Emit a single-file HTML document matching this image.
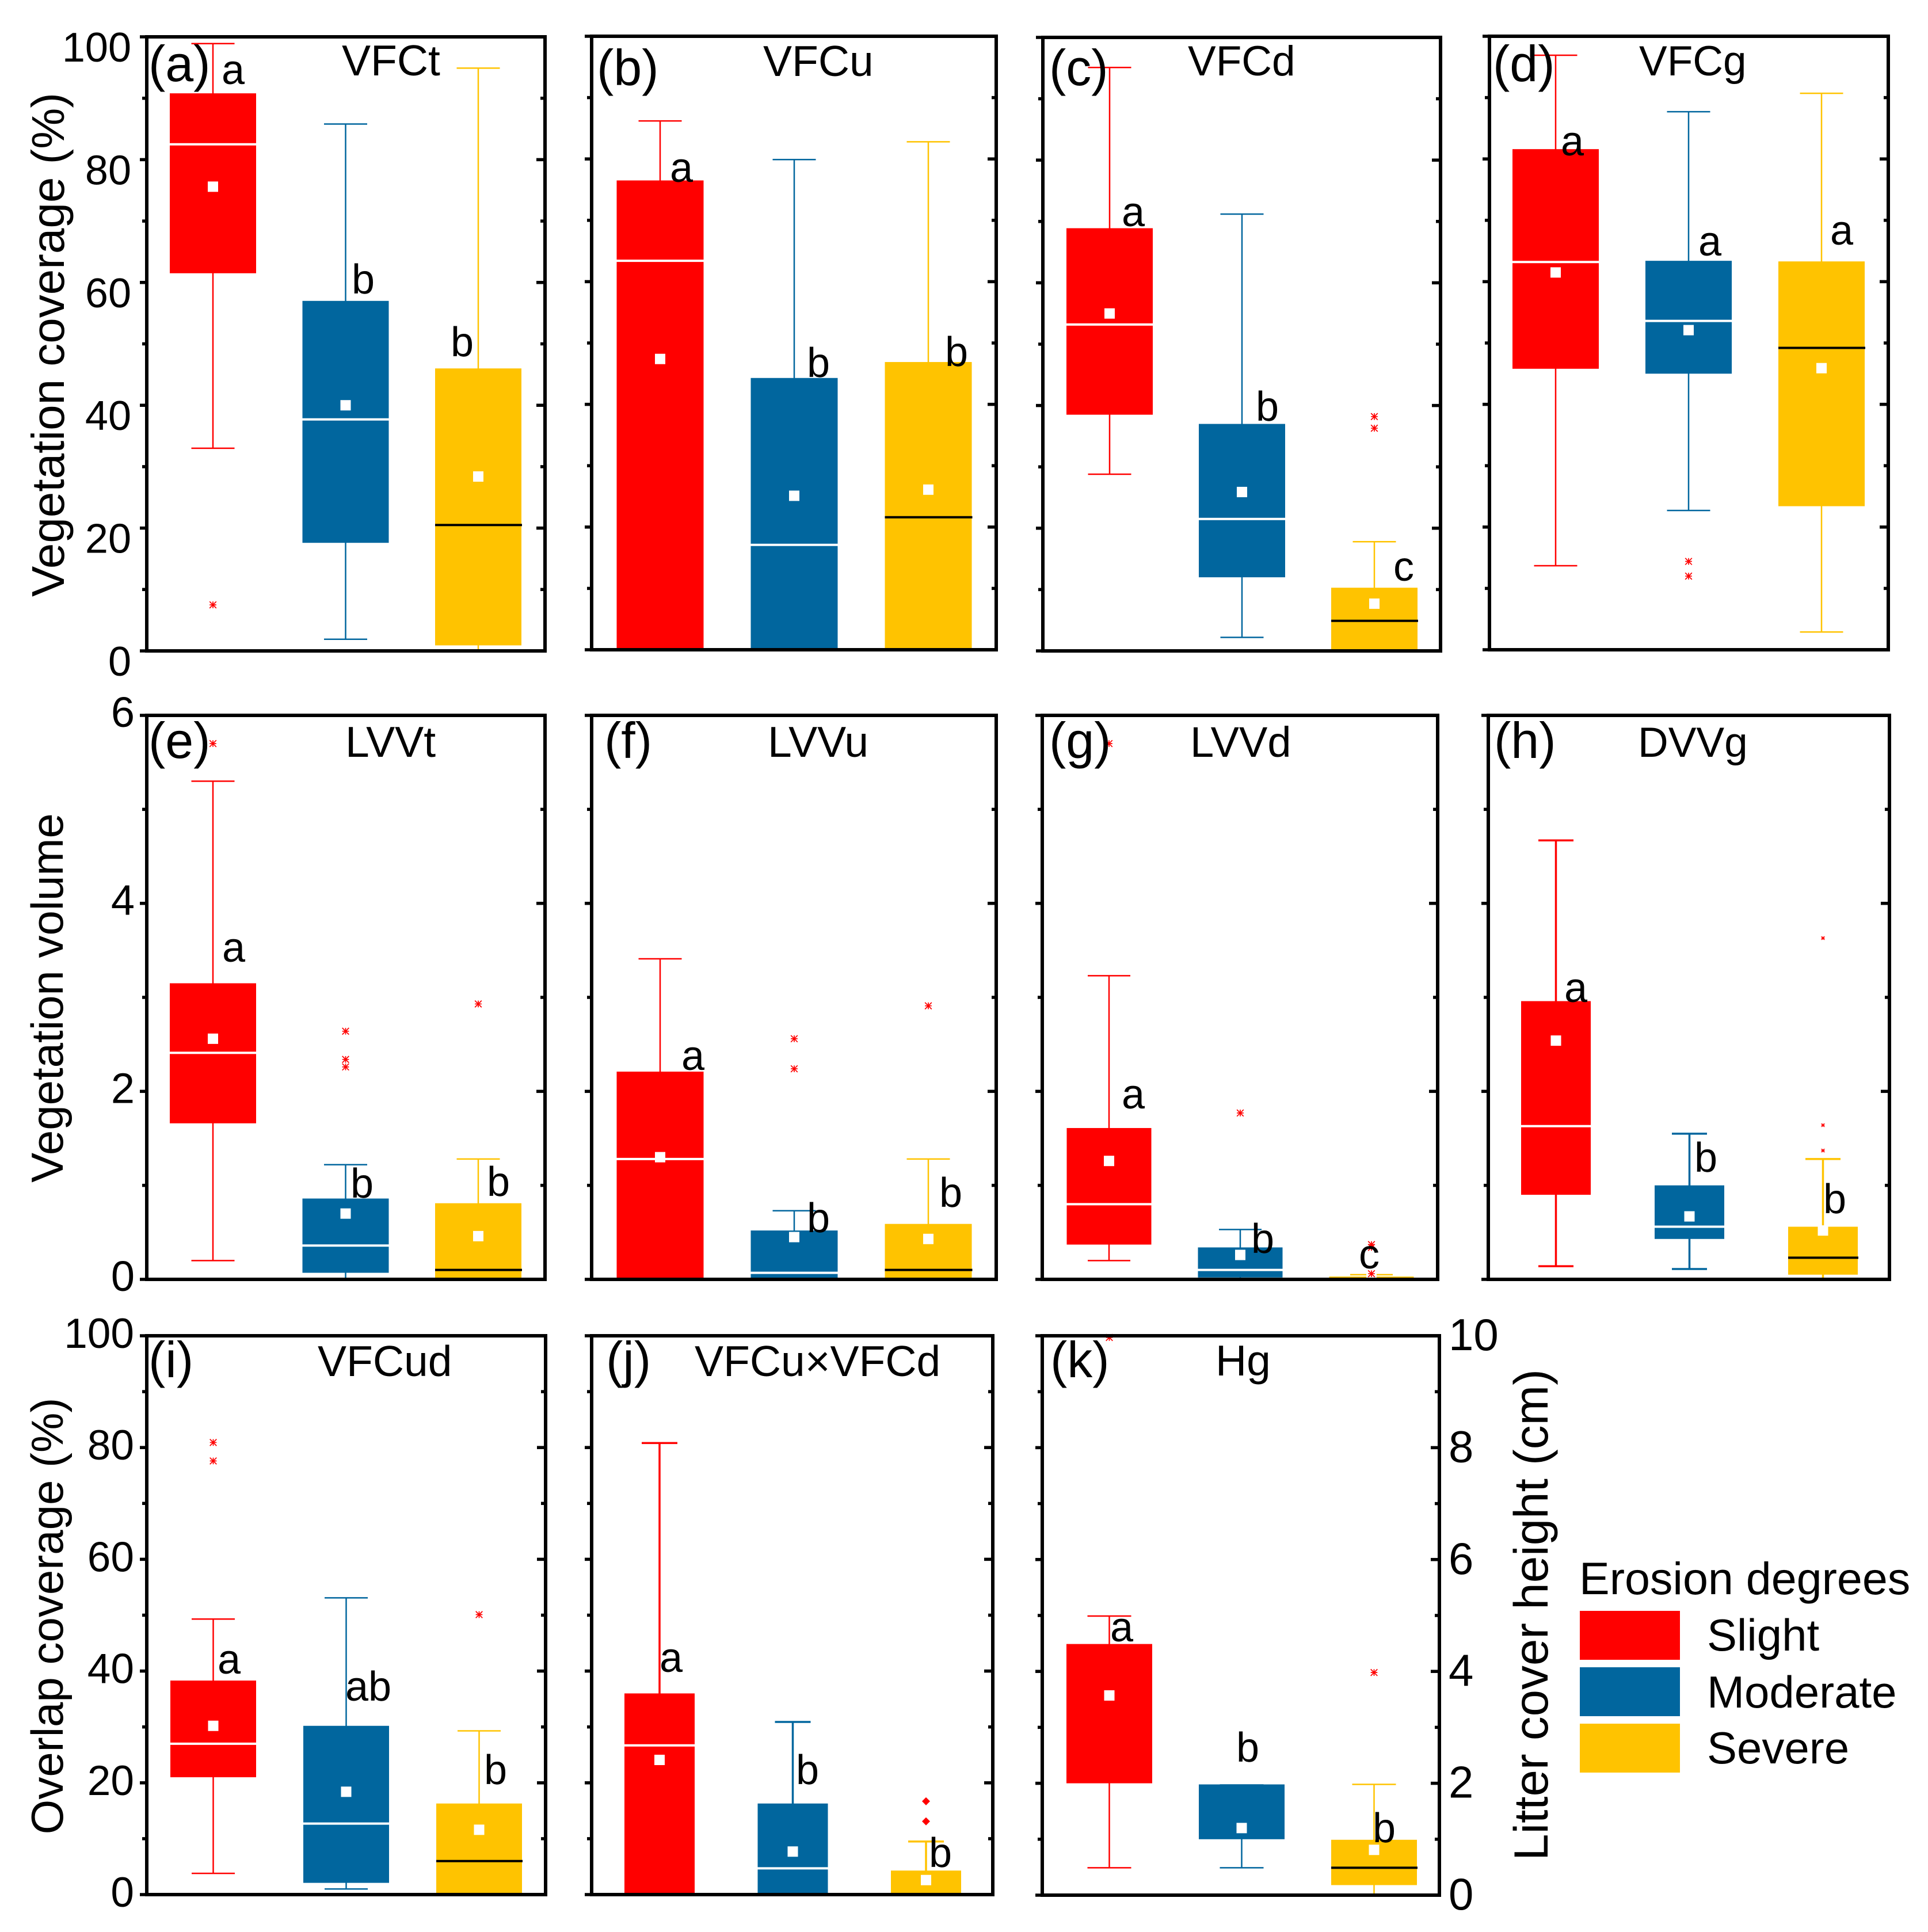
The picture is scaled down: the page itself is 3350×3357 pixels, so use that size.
<!DOCTYPE html>
<html lang="en">
<head>
<meta charset="utf-8">
<title>Vegetation structure by erosion degree</title>
<style>
html,body{margin:0;padding:0;background:#fff;}
svg{display:block;}
text{font-family:"Liberation Sans",Arial,sans-serif;fill:#000;}
.pl{font-size:88px;}
.tt{font-size:75px;}
.lt{font-size:72px;}
.at{font-size:80px;text-anchor:middle;}
.tk{font-size:72px;}
.lg{font-size:78px;}
</style>
</head>
<body>
<svg id="chart" xmlns="http://www.w3.org/2000/svg" width="3350" height="3357" viewBox="0 0 3350 3357">
<rect x="0" y="0" width="3350" height="3357" fill="#fff"/>
<g id="marks"></g>

<g>
<text class="at" transform="translate(111,599) rotate(-90)">Vegetation coverage (%)</text>
<text class="at" style="font-size:78px" transform="translate(109,1734) rotate(-90)">Vegetation volume</text>
<text class="at" style="font-size:78px" transform="translate(109,2808) rotate(-90)">Overlap coverage (%)</text>
<text class="at" style="font-size:83.5px" transform="translate(2689,2806) rotate(-90)">Litter cover height (cm)</text>
</g>

<g transform="translate(-3,1)">
<text class="pl" x="261" y="140">(a)</text>
<text class="tt" x="597" y="130">VFCt</text>
<text class="lt" x="388" y="145">a</text>
<text class="lt" x="614" y="509">b</text>
<text class="lt" x="786" y="618">b</text>
</g>
<g transform="translate(-3,1)">
<text class="pl" x="1040" y="147">(b)</text>
<text class="tt" x="1329" y="131">VFCu</text>
<text class="lt" x="1167" y="315">a</text>
<text class="lt" x="1405" y="654">b</text>
<text class="lt" x="1645" y="635">b</text>
</g>
<g transform="translate(-3,1)">
<text class="pl" x="1826" y="147">(c)</text>
<text class="tt" style="font-size:73px" x="2067" y="130">VFCd</text>
<text class="lt" x="1952" y="392">a</text>
<text class="lt" x="2185" y="730">b</text>
<text class="lt" x="2424" y="1008">c</text>
</g>
<g transform="translate(-3,1)">
<text class="pl" x="2597" y="140">(d)</text>
<text class="tt" style="font-size:73px" x="2851" y="130">VFCg</text>
<text class="lt" x="2715" y="269">a</text>
<text class="lt" x="2954" y="443">a</text>
<text class="lt" x="3183" y="424">a</text>
</g>
<g transform="translate(-3,1)">
<text class="pl" x="261" y="1316">(e)</text>
<text class="tt" x="603" y="1314">LVVt</text>
<text class="lt" x="389" y="1670">a</text>
<text class="lt" x="612" y="2080">b</text>
<text class="lt" x="849" y="2077">b</text>
</g>
<g transform="translate(-3,1)">
<text class="pl" x="1053" y="1316">(f)</text>
<text class="tt" x="1337" y="1314">LVVu</text>
<text class="lt" x="1187" y="1858">a</text>
<text class="lt" x="1405" y="2140">b</text>
<text class="lt" x="1635" y="2096">b</text>
</g>
<g transform="translate(-3,1)">
<text class="pl" x="1826" y="1316">(g)</text>
<text class="tt" style="font-size:74px" x="2071" y="1314">LVVd</text>
<text class="lt" x="1952" y="1925">a</text>
<text class="lt" x="2177" y="2176">b</text>
<text class="lt" x="2364" y="2203">c</text>
</g>
<g transform="translate(-3,1)">
<text class="pl" x="2599" y="1316">(h)</text>
<text class="tt" style="font-size:73px" x="2849" y="1314">DVVg</text>
<text class="lt" x="2721" y="1740">a</text>
<text class="lt" x="2947" y="2035">b</text>
<text class="lt" x="3171" y="2107">b</text>
</g>
<g transform="translate(-3,1)">
<text class="pl" x="261" y="2392">(i)</text>
<text class="tt" x="555" y="2390">VFCud</text>
<text class="lt" x="381" y="2907">a</text>
<text class="lt" x="603" y="2954">ab</text>
<text class="lt" x="844" y="3099">b</text>
</g>
<g transform="translate(-3,1)">
<text class="pl" x="1056" y="2392">(j)</text>
<text class="tt" x="1210" y="2390">VFCu×VFCd</text>
<text class="lt" x="1149" y="2904">a</text>
<text class="lt" x="1386" y="3099">b</text>
<text class="lt" x="1617" y="3243">b</text>
</g>
<g transform="translate(-3,1)">
<text class="pl" x="1828" y="2392">(k)</text>
<text class="tt" x="2115" y="2389">Hg</text>
<text class="lt" x="1932" y="2851">a</text>
<text class="lt" x="2151" y="3060">b</text>
<text class="lt" x="2388" y="3200">b</text>
</g>

<g>
<text class="lg" style="font-size:79px" x="2744" y="2770">Erosion degrees</text>
<rect x="2745" y="2799" width="174" height="85" fill="#ff0000"/>
<text class="lg" x="2966" y="2868">Slight</text>
<rect x="2745" y="2897" width="174" height="85" fill="#01669e"/>
<text class="lg" x="2966" y="2967">Moderate</text>
<rect x="2745" y="2995" width="174" height="85" fill="#ffc300"/>
<text class="lg" x="2966" y="3064">Severe</text>
</g>
</svg>

<script>
// ----- chart data (panels a..k, each with Slight / Moderate / Severe) -----
const panelIds = ['a','b','c','d','e','f','g','h','i','j','k'];
const categories = ['slight','moderate','severe'];
const seriesColors = ['#ff0000','#01669e','#ffc300'];
const medianColors = ['#ffffff','#ffffff','#000000'];

const whiskerHigh = [[98.9,85.8,94.9],[86.2,79.9,82.8],[95.1,71.2,17.8],[96.9,87.7,90.7],[5.3,1.22,1.28],[3.41,0.73,1.28],[3.23,0.53,0.05],[4.67,1.55,1.28],[49.3,53.1,29.3],[80.8,30.9,9.5],[4.99,1.97,1.98]];
const boxTop = [[90.8,57,46],[76.5,44.3,46.9],[68.9,37,10.3],[81.6,63.4,63.3],[3.15,0.86,0.81],[2.21,0.52,0.59],[1.61,0.34,0.03],[2.96,1,0.56],[38.3,30.2,16.3],[36,16.3,4.3],[4.49,1.98,0.99]];
const medians = [[82.5,37.7,20.5],[63.4,17.1,21.6],[53.2,21.5,4.9],[63.2,53.6,49.2],[2.41,0.36,0.1],[1.28,0.07,0.1],[0.8,0.1,null],[1.63,0.56,0.23],[27,12.7,6],[26.7,4.7,null],[null,null,0.49]];
const means = [[75.6,40,28.4],[47.4,25.1,26.1],[55,25.9,7.7],[61.5,52.1,45.9],[2.56,0.7,0.46],[1.3,0.45,0.43],[1.26,0.26,0.02],[2.54,0.67,0.52],[30.2,18.4,11.6],[24.1,7.7,2.6],[3.57,1.2,0.81]];
const boxBottom = [[61.5,17.6,0.9],[0,0,0],[38.5,12,0],[45.8,45,23.4],[1.66,0.07,0],[0,0,0],[0.37,0.02,0],[0.9,0.43,0.05],[21,2.1,0],[0,0,0],[2,1,0.18]];
const whiskerLow = [[33,1.9,0],[0,0,0],[28.8,2.2,0],[13.7,22.7,2.9],[0.2,0,0],[0,0,0],[0.2,0,0],[0.14,0.11,0],[3.8,1,0],[0,0,0],[0.49,0.49,0]];
const outliers = [[[7.5],[],[]],[[],[],[]],[[],[],[38.2,36.3]],[[],[14.4,12],[]],[[5.7],[2.64,2.34,2.26],[2.93]],[[],[2.56,2.24],[2.91]],[[5.7],[1.77],[0.37,0.34,0.06]],[[],[],[3.63,1.64,1.37]],[[80.9,77.6],[],[50.1]],[[],[],[16.7,13.1]],[[9.97],[],[3.98]]];

const coverMajorTicks = [0,20,40,60,80,100];
const coverMinorTicks = [10,30,50,70,90];
const volumeMajorTicks = [0,2,4,6];
const volumeMinorTicks = [1,3,5];
const heightMajorTicks = [0,2,4,6,8,10];
const heightMinorTicks = [1,3,5,7,9];

// ----- layout (plot frames, not data) -----
const layout = {
  a:{l:255,r:947,t:64,b:1131,max:100,x0:370,step:230.5,w:150,cap:75,lw:2.5,maj:coverMajorTicks,min:coverMinorTicks,labelX:228,labelDy:43,labelSize:72},
  b:{l:1028,r:1731,t:63,b:1129,max:100,x0:1147,step:233,w:151,cap:75,lw:2.5,maj:coverMajorTicks,min:coverMinorTicks},
  c:{l:1812,r:2503,t:65,b:1131,max:100,x0:1928,step:230,w:150,cap:75,lw:2.5,maj:coverMajorTicks,min:coverMinorTicks},
  d:{l:2588,r:3281,t:63,b:1129,max:100,x0:2703,step:231,w:150,cap:75,lw:2.5,maj:coverMajorTicks,min:coverMinorTicks},
  e:{l:255,r:947,t:1243,b:2223,max:6,x0:370,step:230.5,w:150,cap:75,lw:2.5,maj:volumeMajorTicks,min:volumeMinorTicks,labelX:234,labelDy:20,labelSize:74},
  f:{l:1028,r:1731,t:1243,b:2223,max:6,x0:1147,step:233,w:151,cap:75,lw:2.5,maj:volumeMajorTicks,min:volumeMinorTicks},
  g:{l:1811,r:2498,t:1243,b:2223,max:6,x0:1927,step:228,w:147,cap:74,lw:2.5,maj:volumeMajorTicks,min:volumeMinorTicks},
  h:{l:2586,r:3283,t:1243,b:2223,max:6,x0:2703.5,step:232,w:121,cap:61,lw:3.5,maj:volumeMajorTicks,min:volumeMinorTicks,star:3},
  i:{l:255,r:948,t:2321,b:3292,max:100,x0:370.5,step:231,w:149,cap:75,lw:2.5,maj:coverMajorTicks,min:coverMinorTicks,labelX:233,labelDy:21,labelSize:73},
  j:{l:1028,r:1725,t:2321,b:3292,max:100,x0:1146,step:231.5,w:122,cap:62,lw:3.5,maj:coverMajorTicks,min:coverMinorTicks,diamond:true},
  k:{l:1811,r:2501,t:2321,b:3293,max:10,x0:1927.5,step:230,w:149,cap:76,lw:2.5,maj:heightMajorTicks,min:heightMinorTicks,rightLabelX:2517,rightLabelDy:25,labelSize:78}
};

const SVG_NS = 'http://www.w3.org/2000/svg';
const marksRoot = document.getElementById('marks');

function make(tag, attrs, parent) {
  const el = document.createElementNS(SVG_NS, tag);
  for (const k in attrs) el.setAttribute(k, attrs[k]);
  parent.appendChild(el);
  return el;
}
function yScale(p, v) { return p.b - (v / p.max) * (p.b - p.t); }
function xScale(p, i) { return p.x0 + i * p.step; }

panelIds.forEach(function (id, pi) {
  const p = layout[id];
  const g = make('g', {}, marksRoot);
  
  

  categories.forEach(function (cat, ci) {
    const color = seriesColors[ci];
    const cx = xScale(p, ci);
    const yHi = yScale(p, whiskerHigh[pi][ci]);
    const yLo = yScale(p, whiskerLow[pi][ci]);

    const whisker = make('line', {x1:cx, x2:cx, y1:yHi, y2:yLo, stroke:color, 'stroke-width':p.lw}, g);
    
    

    const capTop = make('line', {x1:cx - p.cap / 2, x2:cx + p.cap / 2, y1:yHi, y2:yHi, stroke:color, 'stroke-width':p.lw}, g);
    
    

    const capBot = make('line', {x1:cx - p.cap / 2, x2:cx + p.cap / 2, y1:yLo, y2:yLo, stroke:color, 'stroke-width':p.lw}, g);
    
    

    const yTop = yScale(p, boxTop[pi][ci]);
    const yBot = yScale(p, boxBottom[pi][ci]);
    const box = make('rect', {x:cx - p.w / 2, y:yTop, width:p.w, height:Math.max(0, yBot - yTop), fill:color}, g);
    
    

    if (medians[pi][ci] !== null) {
      const ym = yScale(p, medians[pi][ci]);
      const med = make('line', {x1:cx - p.w / 2, x2:cx + p.w / 2 + (ci === 2 ? 1 : 0), y1:ym, y2:ym, stroke:medianColors[ci], 'stroke-width':4}, g);
      
      
    }

    const yMean = yScale(p, means[pi][ci]);
    const mean = make('rect', {x:cx - 9, y:yMean - 9, width:18, height:18, fill:'#ffffff'}, g);
    
    

    outliers[pi][ci].forEach(function (v) {
      const oy = yScale(p, v);
      let mk;
      if (p.diamond) {
        mk = make('path', {d:'M0,-7L7,0L0,7L-7,0Z', fill:'#ff0000', transform:'translate(' + cx + ',' + oy + ')'}, g);
      } else {
        const s = p.star || 5.8;
        mk = make('path', {d:'M0,' + (-s) + 'V' + s + 'M' + (-s) + ',0H' + s + 'M' + (-s) + ',' + (-s) + 'L' + s + ',' + s + 'M' + (-s) + ',' + s + 'L' + s + ',' + (-s), fill:'none', stroke:'#ff0000', 'stroke-width':p.star ? 1.2 : 1.7, transform:'translate(' + cx + ',' + oy + ')'}, g);
      }
      
      
    });
  });

  // ticks
  p.maj.forEach(function (v) {
    const y = yScale(p, v);
    const tl = make('line', {x1:p.l - 12, x2:p.l, y1:y, y2:y, stroke:'#000', 'stroke-width':5.5}, g);
    
    
    const tr = make('line', {x1:p.r - 15, x2:p.r, y1:y, y2:y, stroke:'#000', 'stroke-width':5.5}, g);
    
    
    if (p.labelX) {
      const t = make('text', {x:p.labelX, y:y + p.labelDy, 'text-anchor':'end', class:'tk', style:'font-size:' + p.labelSize + 'px'}, g);
      t.textContent = String(v);
      
      
    }
    if (p.rightLabelX) {
      const t2 = make('text', {x:p.rightLabelX, y:y + p.rightLabelDy, 'text-anchor':'start', class:'tk', style:'font-size:' + p.labelSize + 'px'}, g);
      t2.textContent = String(v);
      
      
    }
  });
  p.min.forEach(function (v) {
    const y = yScale(p, v);
    const tl = make('line', {x1:p.l - 8, x2:p.l, y1:y, y2:y, stroke:'#000', 'stroke-width':5.5}, g);
    
    
    const tr = make('line', {x1:p.r - 8, x2:p.r, y1:y, y2:y, stroke:'#000', 'stroke-width':5.5}, g);
    
    
  });

  const frame = make('rect', {x:p.l, y:p.t, width:p.r - p.l, height:p.b - p.t, fill:'none', stroke:'#000', 'stroke-width':6}, g);
  
  
});
</script>
</body>
</html>
